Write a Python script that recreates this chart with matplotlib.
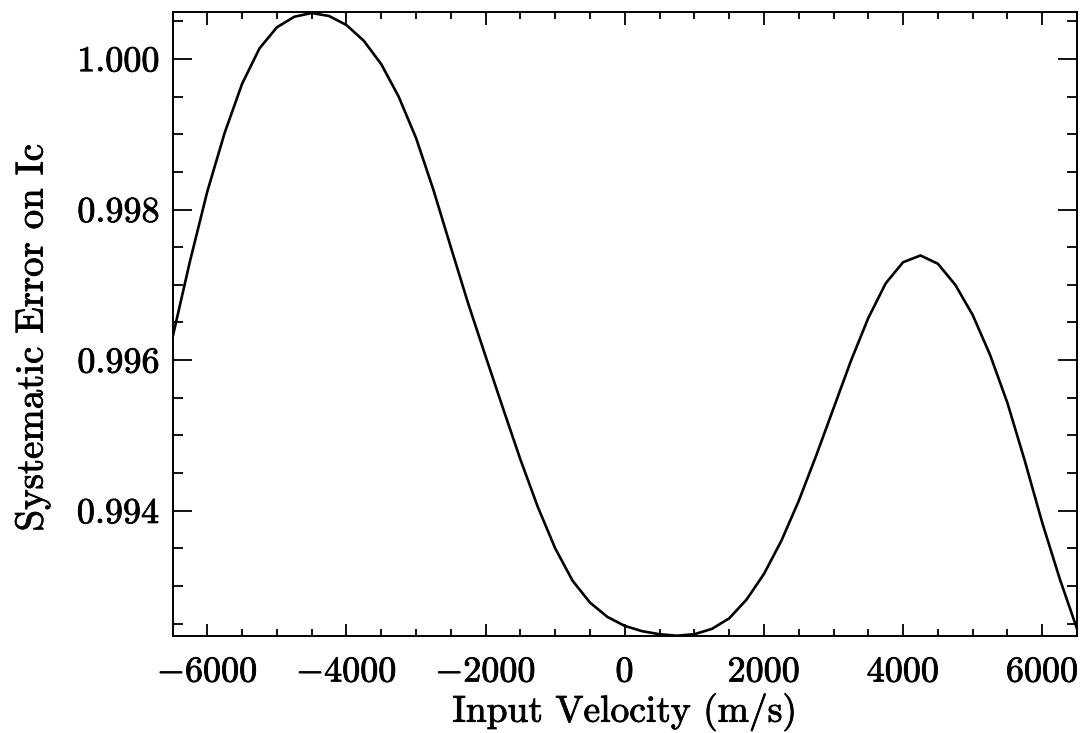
import matplotlib
matplotlib.use("Agg")
import matplotlib.pyplot as plt
import matplotlib.patheffects as pe
from matplotlib.ticker import MultipleLocator, FuncFormatter

# values
velocity = [-6500, -6250, -6000, -5750, -5500, -5250, -5000, -4750, -4500, -4250,
            -4000, -3750, -3500, -3250, -3000, -2750, -2500, -2250, -2000, -1750,
            -1500, -1250, -1000, -750, -500, -250, 0, 250, 500, 750,
            1000, 1250, 1500, 1750, 2000, 2250, 2500, 2750, 3000, 3250,
            3500, 3750, 4000, 4250, 4500, 4750, 5000, 5250, 5500, 5750,
            6000, 6250, 6500]
sys_error = [0.99630, 0.99731, 0.99824, 0.99902, 0.99967, 1.00014, 1.00042, 1.00056, 1.00061, 1.00057,
             1.00045, 1.00024, 0.99993, 0.99950, 0.99895, 0.99826, 0.99750, 0.99675, 0.99605, 0.99536,
             0.99468, 0.99405, 0.99350, 0.99307, 0.99278, 0.99259, 0.99247, 0.99240, 0.99236, 0.99234,
             0.99236, 0.99243, 0.99257, 0.99282, 0.99316, 0.99360, 0.99413, 0.99473, 0.99536, 0.99599,
             0.99656, 0.99702, 0.99730, 0.99739, 0.99728, 0.99700, 0.99660, 0.99607, 0.99543, 0.99466,
             0.99384, 0.99310, 0.99243]

plt.rcParams["font.family"] = "serif"
plt.rcParams["font.serif"] = ["cmr10", "DejaVu Serif"]
plt.rcParams["mathtext.fontset"] = "cm"
plt.rcParams["axes.formatter.use_mathtext"] = True

fig = plt.figure(figsize=(10.83, 7.33), dpi=100)
ax = fig.add_axes([0.1593, 0.1323, 0.8352, 0.8513])

ax.plot(velocity, sys_error, color="black", linewidth=1.9)

ax.set_xlim(-6500, 6500)
ax.set_ylim(0.992336, 1.000623)

ax.xaxis.set_major_locator(MultipleLocator(2000))
ax.xaxis.set_minor_locator(MultipleLocator(500))
ax.yaxis.set_major_locator(MultipleLocator(0.002))
ax.yaxis.set_minor_locator(MultipleLocator(0.0005))
ax.xaxis.set_major_formatter(FuncFormatter(lambda v, p: f"${v:.0f}$"))
ax.yaxis.set_major_formatter(FuncFormatter(lambda v, p: f"${v:.3f}$"))

ax.tick_params(axis="both", which="both", direction="in", top=True, right=True,
               labelsize=26, width=1.3, color="black")
ax.tick_params(axis="x", which="major", length=9, pad=15)
ax.tick_params(axis="x", which="minor", length=5)
ax.tick_params(axis="y", which="major", length=14, pad=9)
ax.tick_params(axis="y", which="minor", length=7)

for spine in ax.spines.values():
    spine.set_linewidth(1.4)

ax.set_xlabel("Input Velocity (m/s)", fontsize=27, labelpad=3)
ax.set_ylabel("Systematic Error on Ic", fontsize=28)
ax.yaxis.set_label_coords(-0.135, 0.478)

# slightly heavier text, like the original
bold = [pe.withStroke(linewidth=0.6, foreground="black")]
for t in ax.get_xticklabels() + ax.get_yticklabels() + [ax.xaxis.label, ax.yaxis.label]:
    t.set_path_effects(bold)

fig.savefig("out.png", dpi=100)
